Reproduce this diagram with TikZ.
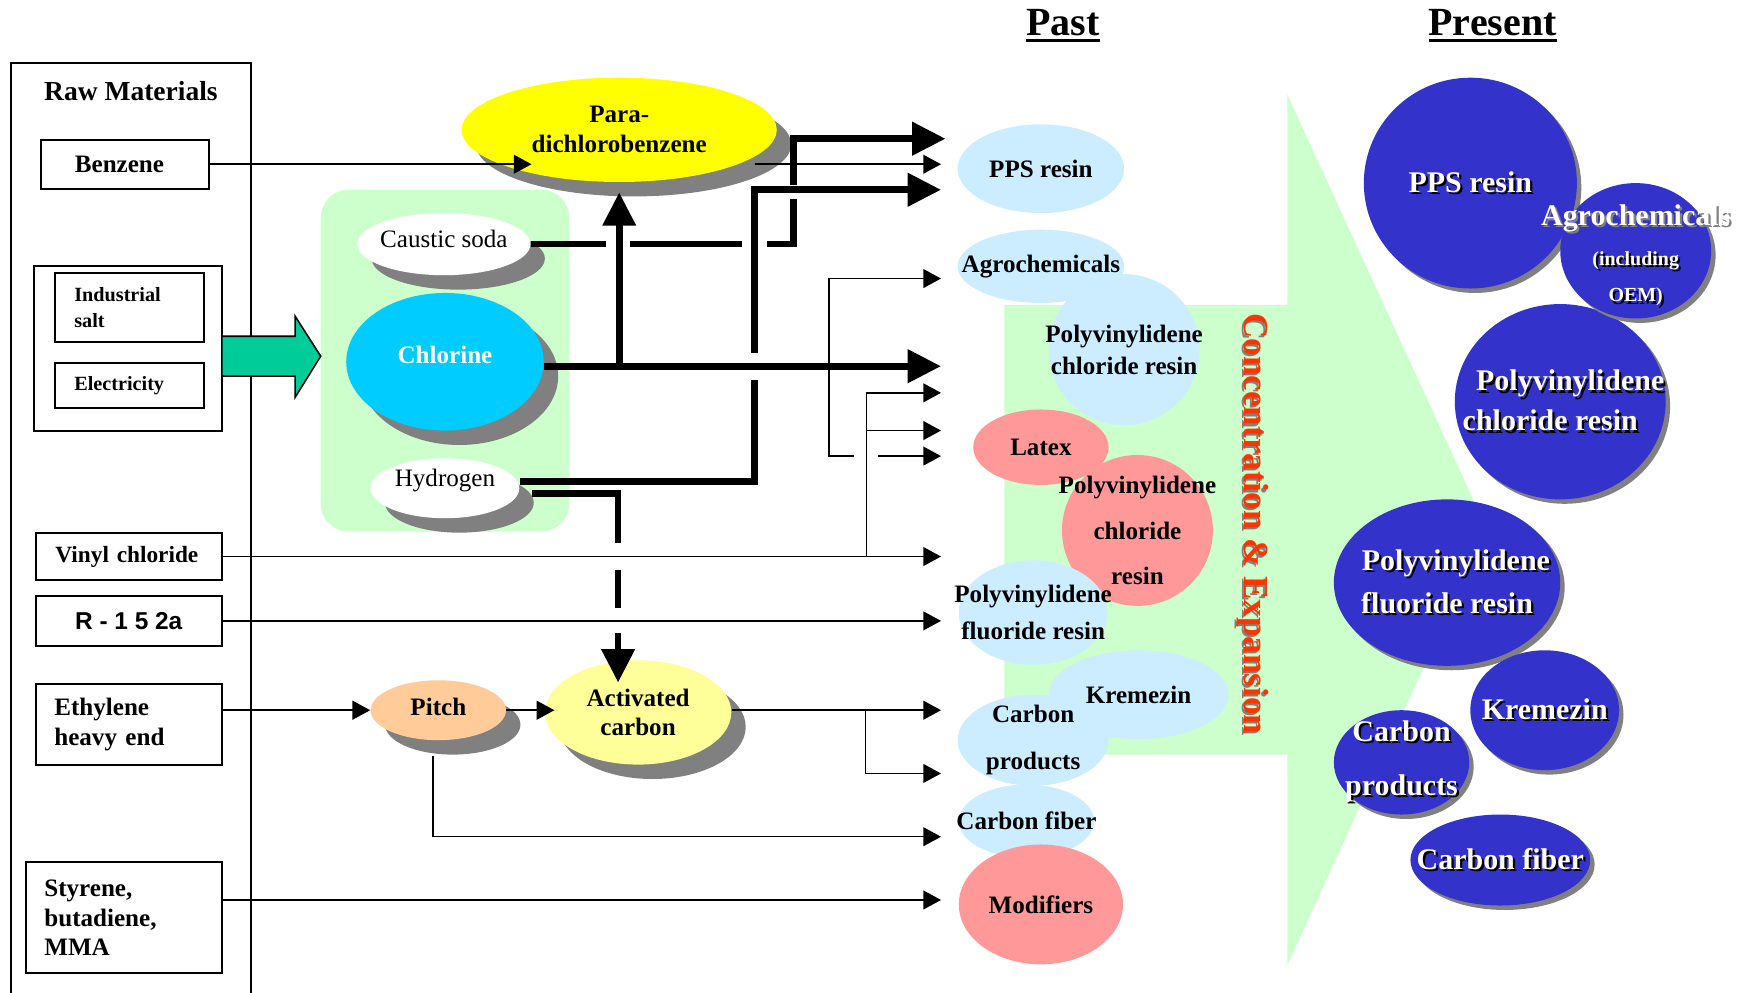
\documentclass[tikz,border=0pt]{standalone}
\usepackage{fontspec}
\setmainfont{Liberation Serif}
\newfontfamily\labelsans{Liberation Sans}
\usetikzlibrary{arrows.meta,shapes.geometric,shadows}

\definecolor{pdcbyellow}{HTML}{FFFF00}
\definecolor{chlorcyan}{HTML}{00CCFF}
\definecolor{pitchorange}{HTML}{FFCC99}
\definecolor{carbonyellow}{HTML}{FFFF99}
\definecolor{paleblue}{HTML}{CCECFF}
\definecolor{salmon}{HTML}{FF9999}
\definecolor{palegreen}{HTML}{CCFFCC}
\definecolor{flowteal}{HTML}{00CC99}
\definecolor{presentblue}{HTML}{3333CC}
\definecolor{shadowgray}{HTML}{808080}
\definecolor{trendred}{HTML}{FF3300}

\newcommand{\shadowed}[2][black]{\leavevmode\rlap{\hspace{1pt}\raisebox{-1pt}{\color{#1}#2}}#2}
\newcommand{\headline}[1]{\setbox0\hbox{#1}\rlap{\rule[-2.6pt]{\wd0}{1.1pt}}\box0}

\tikzset{
  srcbox/.style={draw, line width=0.9pt, inner sep=0pt, font=\bfseries\fontsize{11.3}{13.5}\selectfont},
  leftbox/.style={srcbox, align=left, inner xsep=8.5pt},
  blob/.style={ellipse, inner sep=0pt, drop shadow={shadow xshift=6.5pt, shadow yshift=-6.5pt, fill=shadowgray, opacity=1}},
  blobtxt/.style={font=\fontsize{11.3}{13.5}\selectfont, align=center, inner sep=0pt},
  blobbold/.style={blobtxt, font=\bfseries\fontsize{11.3}{13.5}\selectfont},
  pastblob/.style={ellipse, inner sep=0pt},
  pasttxt/.style={font=\bfseries\fontsize{11.3}{14.5}\selectfont, align=center, inner sep=0pt},
  nowblob/.style={ellipse, inner sep=0pt, fill=presentblue, drop shadow={shadow xshift=2pt, shadow yshift=-2pt, fill=shadowgray, opacity=1}},
  nowtxt/.style={font=\bfseries\fontsize{13.5}{18}\selectfont, text=white, align=center, inner sep=0pt},
  thinflow/.style={line width=0.7pt, -{Triangle[length=8pt,width=8.5pt]}},
  thickflow/.style={line width=3pt, -{Triangle[length=15pt,width=14.5pt]}},
  crossgap/.style={fill=white},
}

\begin{document}
\begin{tikzpicture}[x=0.5pt,y=-0.5pt]
\useasboundingbox (0,0) rectangle (1568,894);

% backgrounds
\fill[palegreen] (905,275) -- (1160,275) -- (1160,85) -- (1340,477) -- (1160,870) -- (1160,680) -- (905,680) -- cycle;
\fill[palegreen, rounded corners=12.5pt] (289,171) rectangle (513,479);
\draw[line width=0.9pt] (10,57) rectangle (226,910);

% headings
\node[anchor=base, font=\bfseries\fontsize{18}{20}\selectfont] (pasthead) at (958,32.4) {\headline{Past}};
\node[anchor=base, font=\bfseries\fontsize{18}{20}\selectfont] (nowhead) at (1345,32.4) {\headline{Present}};
\node[font=\bfseries\fontsize{12.4}{14}\selectfont] (rawtitle) at (118,82) {Raw Materials};

% raw materials
\node[leftbox, inner xsep=15.5pt, text width=45pt, minimum height=22pt] (benzene) at (112.5,148) {Benzene};
\node[srcbox, minimum width=84.5pt, minimum height=74pt] (saltgrp) at (115.5,314) {};
\node[leftbox, font=\bfseries\fontsize{9.1}{11.5}\selectfont, text width=50pt, minimum height=31pt] (salt) at (117,277) {Industrial\\salt};
\node[leftbox, font=\bfseries\fontsize{9.1}{11.5}\selectfont, text width=50pt, minimum height=20.5pt] (elec) at (117,347.5) {Electricity};
\node[leftbox, font=\bfseries\fontsize{10.5}{12}\selectfont, inner xsep=9pt, text width=66pt, minimum height=21.5pt] (vinyl) at (116,501.5) {Vinyl chloride};
\node[srcbox, font=\labelsans\bfseries\fontsize{11}{13}\selectfont, minimum width=84pt, minimum height=22.5pt] (r152) at (116,559.5) {R - 1 5 2a};
\node[leftbox, text width=67pt, minimum height=36.5pt] (ethyl) at (116,652.5) {Ethylene\\heavy end};
\node[leftbox, text width=71.5pt, minimum height=50pt] (styrene) at (111.5,827) {Styrene,\\butadiene,\\MMA};

\draw[line width=0.7pt, fill=flowteal] (200,303) -- (266,303) -- (266,285) -- (289,321) -- (266,358) -- (266,339) -- (200,339) -- cycle;

% intermediates
\node[blob, fill=white, minimum width=78pt, minimum height=28pt, label={[blobtxt, yshift=2.5pt]center:Caustic soda}] (caustic) at (400,220) {};
\node[blob, fill=chlorcyan, minimum width=89pt, minimum height=62pt, label={[blobbold, text=white, yshift=3pt]center:Chlorine}] (chlorine) at (401,326) {};
\node[blob, fill=white, minimum width=67pt, minimum height=27pt, label={[blobtxt, yshift=3.5pt]center:Hydrogen}] (hydrogen) at (401,440) {};
\node[blob, fill=pdcbyellow, minimum width=142pt, minimum height=47pt, label={[blobbold]center:{Para-\\dichlorobenzene}}] (pdcb) at (558,117) {};
\node[blob, fill=pitchorange, minimum width=61pt, minimum height=27pt, label={[blobbold, yshift=1.5pt]center:Pitch}] (pitch) at (395,640) {};
\node[blob, fill=carbonyellow, minimum width=84pt, minimum height=47pt, label={[blobbold]center:{Activated\\carbon}}] (actc) at (575,642) {};

% past products
\node[pastblob, fill=paleblue, minimum width=75pt, minimum height=40pt, label={[pasttxt]center:PPS resin}] (pps) at (938,152) {};
\node[pastblob, fill=paleblue, minimum width=75pt, minimum height=33pt, label={[pasttxt]center:Agrochemicals}] (agro) at (938,240) {};
\node[pastblob, fill=paleblue, minimum width=68pt, minimum height=68pt, label={[pasttxt]center:{Polyvinylidene\\chloride resin}}] (pvdc) at (1013,315) {};
\node[pastblob, fill=salmon, minimum width=61pt, minimum height=34pt, label={[pasttxt]center:Latex}] (latex) at (938,403) {};
\node[pastblob, fill=salmon, minimum width=68pt, minimum height=68pt, label={[pasttxt]center:{Polyvinylidene\\[6pt]chloride\\[6pt]resin}}] (pvdcr) at (1025,478) {};
\node[pastblob, fill=paleblue, minimum width=67pt, minimum height=47pt, label={[pasttxt]center:{Polyvinylidene\\[2pt]fluoride resin}}] (pvdf) at (931,552) {};
\node[pastblob, fill=paleblue, minimum width=81pt, minimum height=40pt, label={[pasttxt]center:Kremezin}] (krem) at (1026,626) {};
\node[pastblob, fill=paleblue, minimum width=68pt, minimum height=41pt, label={[pasttxt]center:{Carbon\\[6.5pt]products}}] (carbp) at (931,667) {};
\node[pastblob, fill=paleblue, minimum width=61pt, minimum height=33pt, label={[pasttxt]center:Carbon fiber}] (carbf) at (925,740) {};
\node[pastblob, fill=salmon, minimum width=74pt, minimum height=54pt, label={[pasttxt]center:Modifiers}] (modif) at (938,815) {};

\node[rotate=-90, text=trendred, font=\bfseries\fontsize{15.8}{18}\selectfont] (trend) at (1128,472) {\shadowed[shadowgray]{Concentration \& Expansion}};

% present products
\node[nowblob, minimum width=96pt, minimum height=95pt, label={[nowtxt]center:\shadowed{PPS resin}}] (ppsnow) at (1325,165) {};
\node[nowblob, minimum width=95pt, minimum height=88pt, label={[nowtxt]center:{\hspace*{9pt}\shadowed{Polyvinylidene}\\\shadowed{chloride resin}\hspace*{9pt}}}] (pvdcnow) at (1406,362) {};
\node[nowblob, minimum width=68pt, minimum height=61pt, label={[nowtxt, yshift=-2.5pt]center:{\shadowed[shadowgray]{Agrochemicals}\\{\fontsize{9}{11}\selectfont\shadowed{(including}}\\[-1.5pt]{\fontsize{9}{11}\selectfont\shadowed{OEM)}}}}] (agronow) at (1474,226) {};
\node[nowblob, minimum width=102pt, minimum height=75pt, label={[nowtxt]center:{\hspace*{8pt}\shadowed{Polyvinylidene}\\[1.5pt]\shadowed{fluoride resin}}}] (pvdfnow) at (1304,525) {};
\node[nowblob, minimum width=67pt, minimum height=54pt, label={[nowtxt]center:\shadowed{Kremezin}}] (kremnow) at (1392,640) {};
\node[nowblob, minimum width=61pt, minimum height=47pt, label={[nowtxt]center:{\shadowed{Carbon}\\[6.5pt]\shadowed{products}}}] (carbpnow) at (1263,687) {};
\node[nowblob, minimum width=81pt, minimum height=41pt, label={[nowtxt]center:\shadowed{Carbon fiber}}] (carbfnow) at (1352,775) {};

% arrow ends
\coordinate (ppsA) at (852,125);
\coordinate (ppsB) at (848,148);
\coordinate (ppsC) at (848,171);
\coordinate (agroin) at (848,251);
\coordinate (pvdcin) at (848,330);
\coordinate (latexA) at (848,354);
\coordinate (latexB) at (848,388);
\coordinate (latexC) at (848,411);
\coordinate (pvdcrin) at (848,502);
\coordinate (pvdfin) at (848,559);
\coordinate (kremin) at (848,640);
\coordinate (carbpin) at (848,697);
\coordinate (carbfin) at (848,754);
\coordinate (modifin) at (848,811);
\coordinate (pdcbin) at (479,148);
\coordinate (pdcbout) at (680,148);
\coordinate (actcin) at (557,615);
\coordinate (vinylfork) at (781,501.5);

% thick flows
\draw[thickflow] (caustic.east) -| (715,125) -- (ppsA);
\fill[crossgap] (546,214) rectangle (568,226);
\fill[crossgap] (669,214) rectangle (691,226);
\fill[crossgap] (709,167) rectangle (721,179);
\draw[thickflow] ([yshift=3pt]hydrogen.east) -| (680,171) -- (ppsC);
\fill[crossgap] (674,318) rectangle (686,342);
\draw[thickflow] (chlorine.east |- pvdcin) -- (pvdcin);
\draw[thickflow] (pdcb.south |- pvdcin) -- ([yshift=-4.5pt]pdcb.south);
\draw[thickflow] ([xshift=5.5pt,yshift=-2.5pt]hydrogen.east) -| (actcin);
\fill[crossgap] (550,489) rectangle (564,514);
\fill[crossgap] (550,548) rectangle (564,570);

% thin flows
\draw[thinflow] (benzene.east) -- (benzene.east -| pdcbin);
\draw[thinflow] (pdcbout) -- (ppsB);
\draw[thinflow] (747,330) |- (agroin);
\draw[thinflow] (747,330) |- (770,411) (791,411) -- (latexC);
\draw[thinflow] (vinyl.east) -- (vinyl.east -| pvdcrin);
\draw[thinflow] (vinylfork) |- (latexA);
\draw[thinflow] (vinylfork |- latexB) -- (latexB);
\draw[thinflow] (r152.east) -- (r152.east -| pvdfin);
\draw[thinflow] (ethyl.east |- pitch.west) -- (pitch.west);
\draw[thinflow] (pitch.east) -- ([xshift=4.5pt]pitch.east -| actc.west);
\draw[thinflow] (actc.east |- kremin) -- (kremin);
\draw[thinflow] (780,640) |- (carbpin);
\draw[thinflow] ([xshift=-2.5pt,yshift=-7pt]pitch.south) |- (carbfin);
\draw[thinflow] (styrene.east |- modifin) -- (modifin);
\end{tikzpicture}
\end{document}
